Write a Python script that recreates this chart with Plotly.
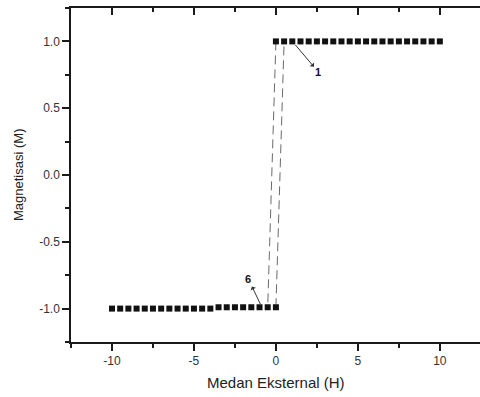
import plotly.graph_objects as go

# Hysteresis loop: magnetisation M versus external field H
lower_h = [-10.0, -9.5, -9.0, -8.5, -8.0, -7.5, -7.0, -6.5, -6.0, -5.5, -5.0,
           -4.5, -4.0, -3.5, -3.0, -2.5, -2.0, -1.5, -1.0, -0.5, 0.0]
lower_m = [-1.0, -1.0, -1.0, -1.0, -1.0, -1.0, -1.0, -1.0, -1.0, -1.0, -1.0,
           -1.0, -1.0, -0.99, -0.99, -0.99, -0.99, -0.99, -0.99, -0.99, -0.99]

upper_h = [0.0, 0.5, 1.0, 1.5, 2.0, 2.5, 3.0, 3.5, 4.0, 4.5, 5.0,
           5.5, 6.0, 6.5, 7.0, 7.5, 8.0, 8.5, 9.0, 9.5, 10.0]
upper_m = [1.0, 1.0, 1.0, 1.0, 1.0, 1.0, 1.0, 1.0, 1.0, 1.0, 1.0,
           1.0, 1.0, 1.0, 1.0, 1.0, 1.0, 1.0, 1.0, 1.0, 1.0]

# switching segments between the two saturated branches
switch_up_h = [0.0, 0.5]
switch_up_m = [-0.99, 1.0]
switch_down_h = [0.0, -0.5]
switch_down_m = [1.0, -0.99]

x_ticks = [-10, -5, 0, 5, 10]
x_tick_labels = ["-10", "-5", "0", "5", "10"]
y_ticks = [-1.0, -0.5, 0.0, 0.5, 1.0]
y_tick_labels = ["-1.0", "-0.5", "0.0", "0.5", "1.0"]

FONT = "Liberation Sans, Arial, sans-serif"
INK = "#1a1a1a"

fig = go.Figure()

for hx, my in ((switch_up_h, switch_up_m), (switch_down_h, switch_down_m)):
    fig.add_trace(go.Scatter(
        x=hx, y=my, mode="lines",
        line=dict(color="#6a6a6a", width=1, dash="9px,5px"),
        showlegend=False, hoverinfo="skip"))

for hx, my in ((lower_h, lower_m), (upper_h, upper_m)):
    fig.add_trace(go.Scatter(
        x=hx, y=my, mode="markers",
        marker=dict(symbol="square", size=6, color="#111111",
                    line=dict(width=0)),
        showlegend=False))

# helper trace so the top (inward-ticked) axis is drawn
fig.add_trace(go.Scatter(x=[0], y=[0], xaxis="x2", mode="markers",
                         marker=dict(opacity=0), showlegend=False,
                         hoverinfo="skip"))

axis_common = dict(
    showgrid=False, zeroline=False, showline=True,
    linecolor=INK, linewidth=1.5, tickcolor=INK, tickwidth=1.5,
)

fig.update_layout(
    width=480, height=397,
    margin=dict(l=71, r=0, t=8, b=55),
    paper_bgcolor="white", plot_bgcolor="white",
    font=dict(family=FONT, color="#333333", size=12),
    xaxis=dict(
        range=[-12.5, 12.45], tickvals=x_ticks, ticktext=x_tick_labels,
        ticks="outside", ticklen=7,
        tickfont=dict(family=FONT, size=12, color="#333333"),
        minor=dict(dtick=2.5, tick0=0, ticks="outside", ticklen=4,
                   tickcolor=INK, tickwidth=1.5),
        **axis_common),
    xaxis2=dict(
        overlaying="x", matches="x", side="top", range=[-12.5, 12.45],
        tickvals=x_ticks, ticks="inside", ticklen=7, showticklabels=False,
        minor=dict(dtick=2.5, tick0=0, ticks="inside", ticklen=4,
                   tickcolor=INK, tickwidth=1.5),
        **axis_common),
    yaxis=dict(
        range=[-1.25, 1.25], tickvals=y_ticks, ticktext=y_tick_labels,
        ticks="outside", ticklen=7,
        tickfont=dict(family=FONT, size=12, color="#333333"),
        minor=dict(dtick=0.25, tick0=0, ticks="outside", ticklen=4,
                   tickcolor=INK, tickwidth=1.5),
        **axis_common),
)

# axis titles
fig.add_annotation(text="Medan Eksternal (H)", xref="paper", yref="paper",
                   x=0.5, y=0, yshift=-40, xanchor="center", yanchor="middle",
                   showarrow=False, font=dict(family=FONT, size=15, color="#222222"))
fig.add_annotation(text="Magnetisasi (M)", xref="paper", yref="paper",
                   x=0, y=0.5, xshift=-53, xanchor="center", yanchor="middle",
                   textangle=-90, showarrow=False,
                   font=dict(family=FONT, size=13, color="#222222"))

# branch labels with pointer arrows
for label, tail_x, tail_y, txt_x, txt_y in (("1", 1.19, 0.973, 2.59, 0.771),
                                           ("6", -0.95, -0.966, -1.68, -0.778)):
    fig.add_annotation(
        x=tail_x, y=tail_y, ax=txt_x, ay=txt_y, xref="x", yref="y",
        axref="x", ayref="y", text="<b>%s</b>" % label, showarrow=True,
        arrowside="start", arrowhead=2, arrowsize=1, arrowwidth=1,
        arrowcolor="#333333", startstandoff=0,
        font=dict(family=FONT, size=11, color="#111111"))

fig.write_html("out.html")
